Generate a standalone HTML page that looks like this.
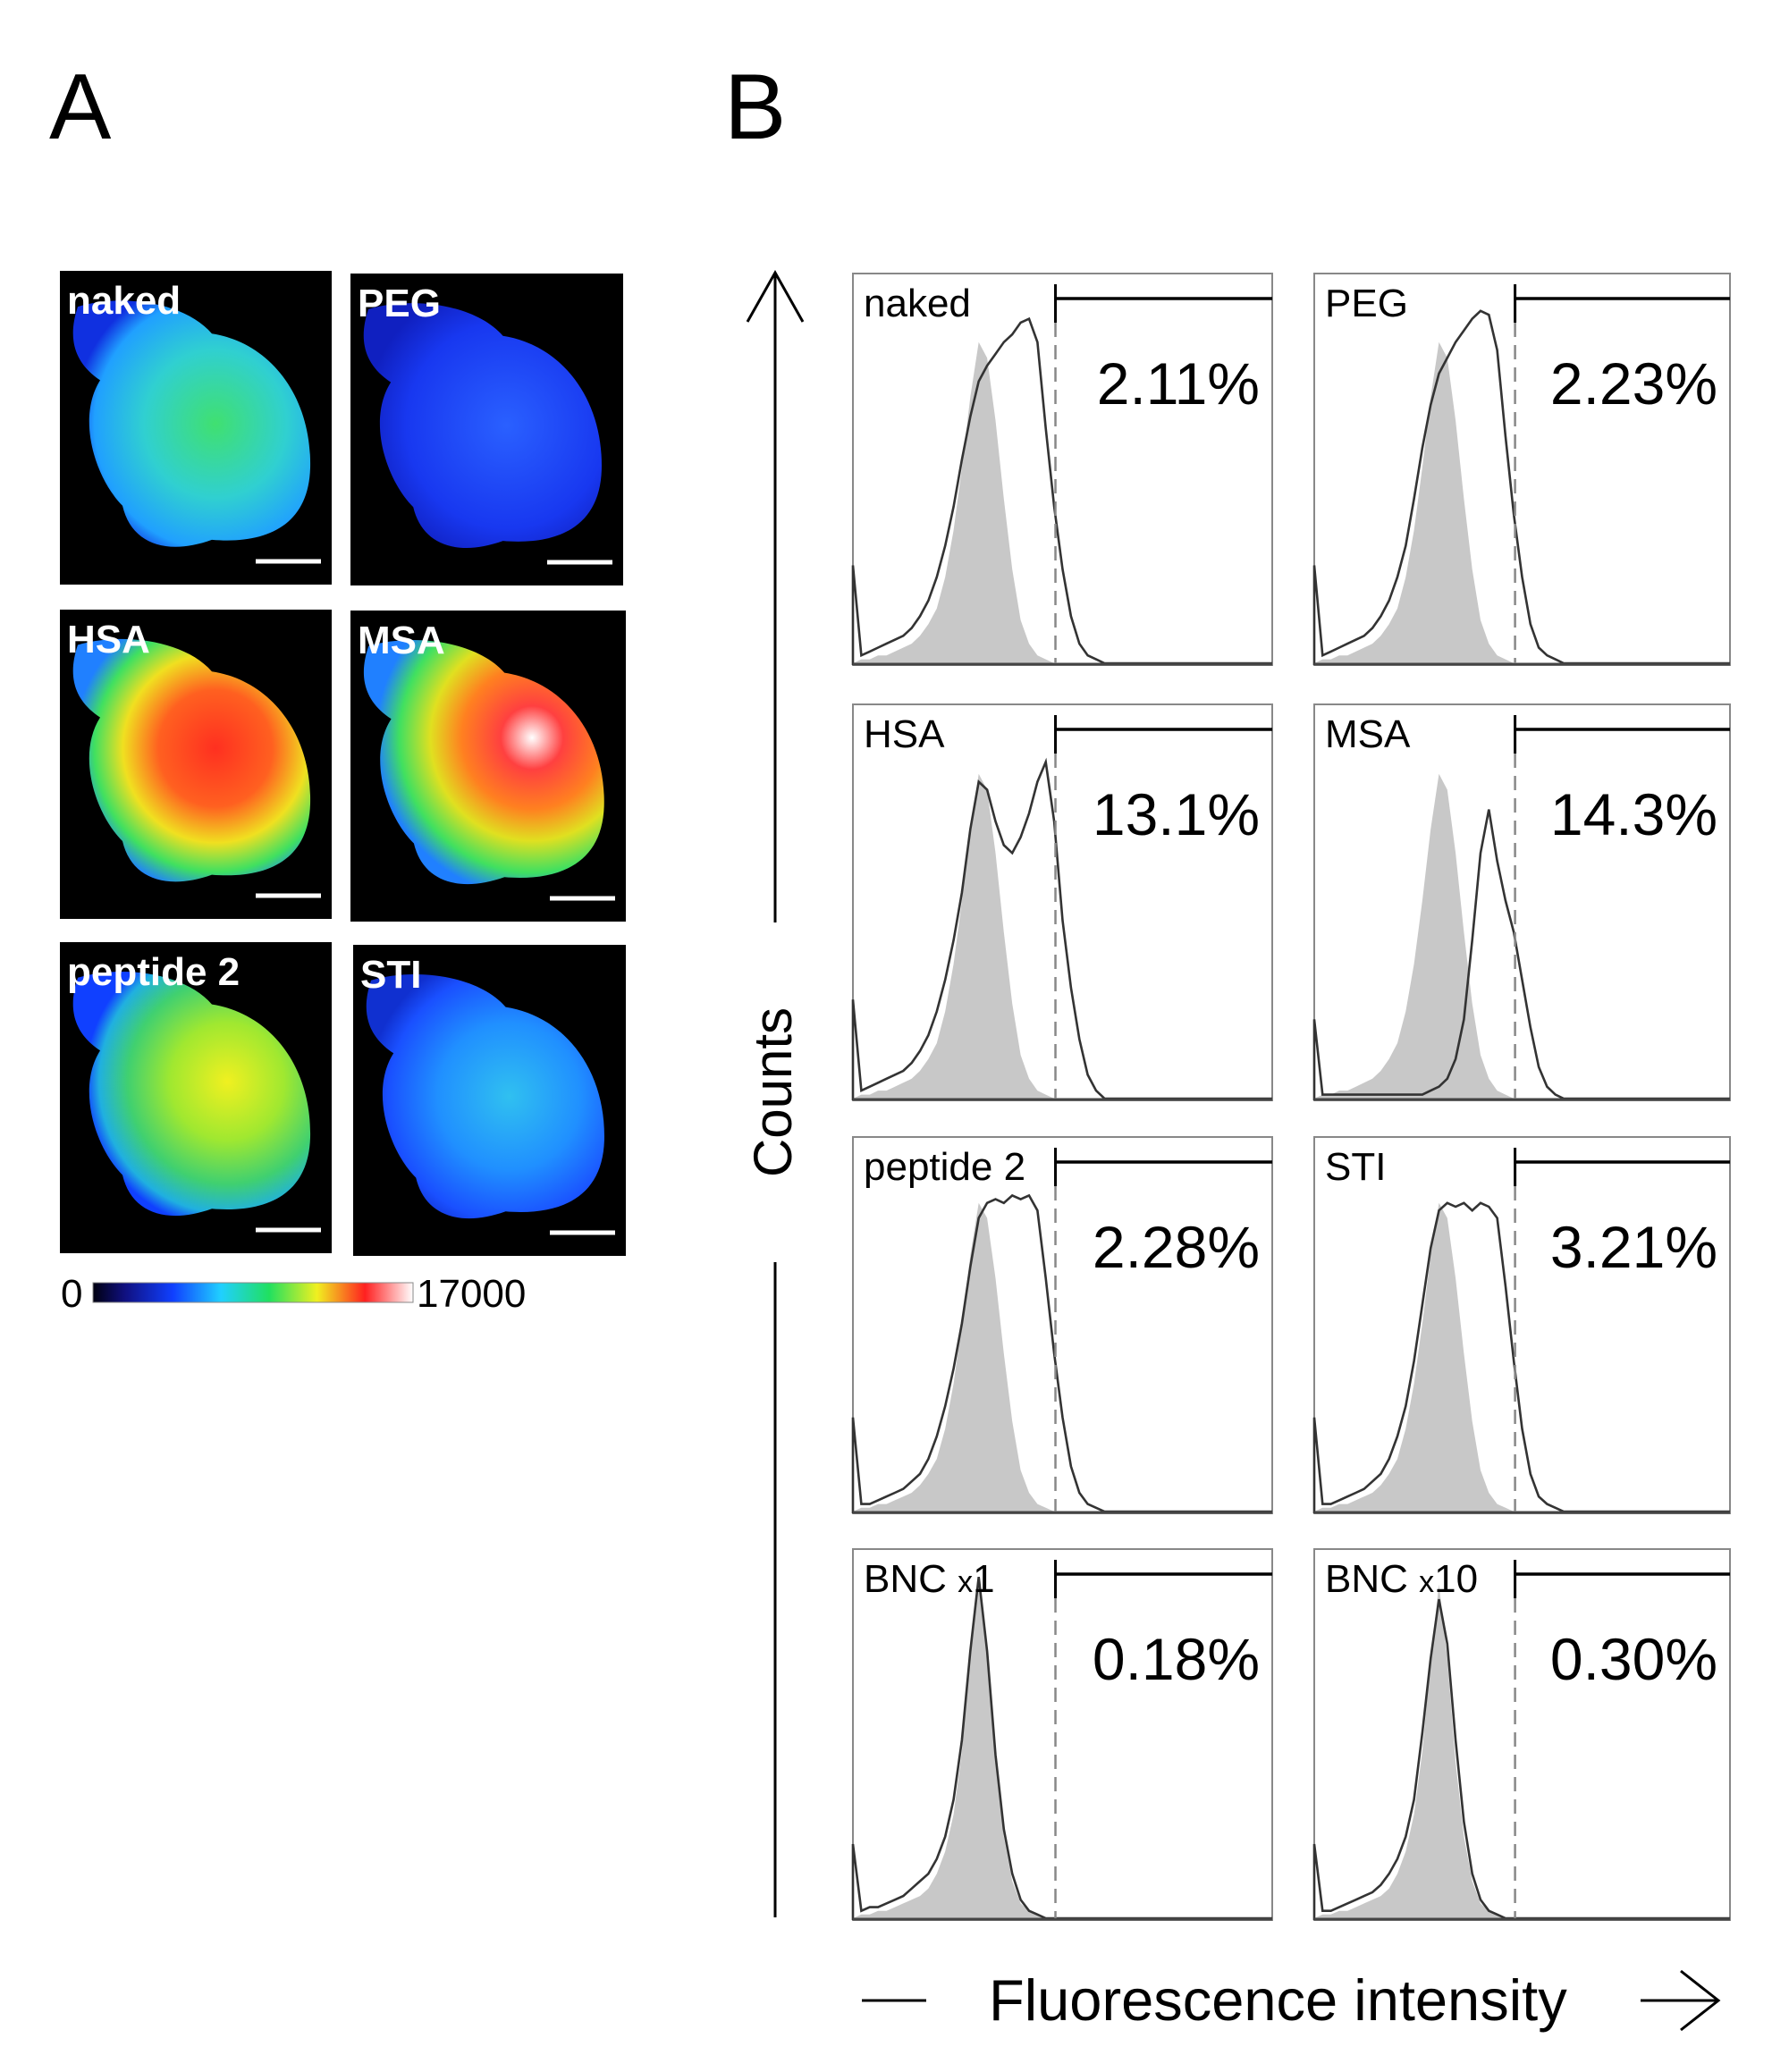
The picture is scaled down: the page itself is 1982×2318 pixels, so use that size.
<!DOCTYPE html>
<html><head><meta charset="utf-8"><style>
html,body{margin:0;padding:0;background:#fff;}
svg{display:block;font-family:"Liberation Sans",sans-serif;}
</style></head><body>
<svg id="fig" width="1982" height="2318" viewBox="0 0 1982 2318" xmlns="http://www.w3.org/2000/svg">
<defs>
<linearGradient id="cbar" x1="0" x2="1" y1="0" y2="0">
<stop offset="0" stop-color="#000010"/><stop offset="0.1" stop-color="#101080"/><stop offset="0.25" stop-color="#1040ff"/><stop offset="0.4" stop-color="#20d0ff"/><stop offset="0.55" stop-color="#20e060"/><stop offset="0.7" stop-color="#f0f020"/><stop offset="0.85" stop-color="#ff2020"/><stop offset="1" stop-color="#ffffff"/>
</linearGradient>
<radialGradient id="g-naked" cx="0.6" cy="0.5" r="0.6"><stop offset="0" stop-color="#40e070"/><stop offset="0.5" stop-color="#30d0d0"/><stop offset="0.85" stop-color="#20a0ff"/><stop offset="1" stop-color="#1030e0"/></radialGradient>
<radialGradient id="g-peg" cx="0.6" cy="0.5" r="0.6"><stop offset="0" stop-color="#2a60ff"/><stop offset="0.7" stop-color="#1838f0"/><stop offset="1" stop-color="#1020c0"/></radialGradient>
<radialGradient id="g-hsa" cx="0.6" cy="0.45" r="0.6"><stop offset="0" stop-color="#ff3020"/><stop offset="0.4" stop-color="#ff6020"/><stop offset="0.65" stop-color="#f0e020"/><stop offset="0.85" stop-color="#40e060"/><stop offset="1" stop-color="#2080ff"/></radialGradient>
<radialGradient id="g-msa" cx="0.7" cy="0.4" r="0.65"><stop offset="0" stop-color="#ffffff"/><stop offset="0.2" stop-color="#ff4040"/><stop offset="0.45" stop-color="#ff8020"/><stop offset="0.65" stop-color="#e0e020"/><stop offset="0.85" stop-color="#40e060"/><stop offset="1" stop-color="#2080ff"/></radialGradient>
<radialGradient id="g-pep" cx="0.65" cy="0.45" r="0.6"><stop offset="0" stop-color="#f0f020"/><stop offset="0.4" stop-color="#a0e830"/><stop offset="0.7" stop-color="#40d070"/><stop offset="0.9" stop-color="#20b0e0"/><stop offset="1" stop-color="#1040ff"/></radialGradient>
<radialGradient id="g-sti" cx="0.6" cy="0.5" r="0.6"><stop offset="0" stop-color="#30c0f0"/><stop offset="0.5" stop-color="#2090ff"/><stop offset="0.85" stop-color="#1a50ff"/><stop offset="1" stop-color="#1030d0"/></radialGradient>
</defs>
<text x="55" y="155" font-size="104" fill="#000">A</text>
<text x="810" y="155" font-size="104" fill="#000">B</text>
<g id="panelA"></g>
<g>
<rect x="104" y="1435" width="358" height="22" fill="url(#cbar)" stroke="#888" stroke-width="1"/>
<text x="68" y="1462" font-size="44" fill="#000">0</text>
<text x="466" y="1462" font-size="44" fill="#000">17000</text>
</g>
<g>
<line x1="867" y1="305" x2="867" y2="1032" stroke="#000" stroke-width="3"/>
<polyline points="836,360 867,305 898,360" fill="none" stroke="#000" stroke-width="3"/>
<line x1="867" y1="1412" x2="867" y2="2145" stroke="#000" stroke-width="3"/>
<text transform="translate(885,1222) rotate(-90)" text-anchor="middle" font-size="60" fill="#000">Counts</text>
</g>
<g>
<line x1="964" y1="2238" x2="1036" y2="2238" stroke="#000" stroke-width="3"/>
<text x="1106" y="2260" font-size="65" fill="#000">Fluorescence intensity</text>
<line x1="1835" y1="2238" x2="1922" y2="2238" stroke="#000" stroke-width="3"/>
<polyline points="1880,2205 1922,2238 1880,2271" fill="none" stroke="#000" stroke-width="3"/>
</g>
<g id="panelB"></g>
</svg>
<script>
// Histogram data: heights (fraction of box height) at x = i*0.02 of box width
const panelNames = ["naked","PEG","HSA","MSA","peptide 2","STI","BNC x1","BNC x10"];
const percentLabels = ["2.11%","2.23%","13.1%","14.3%","2.28%","3.21%","0.18%","0.30%"];
const controlSeries = [0,0.01,0.01,0.02,0.02,0.03,0.04,0.05,0.07,0.10,0.14,0.22,0.34,0.50,0.68,0.82,0.78,0.62,0.42,0.24,0.11,0.05,0.02,0.01,0,0,0,0,0,0,0];
const controlBNC = [0,0.01,0.01,0.02,0.02,0.03,0.04,0.05,0.06,0.08,0.12,0.18,0.28,0.45,0.70,0.90,0.70,0.42,0.22,0.10,0.04,0.02,0.01,0,0,0,0,0,0,0,0];
const sampleNaked = [0.25,0.02,0.03,0.04,0.05,0.06,0.07,0.09,0.12,0.16,0.22,0.30,0.40,0.52,0.63,0.72,0.76,0.79,0.82,0.84,0.87,0.88,0.82,0.60,0.40,0.24,0.12,0.05,0.02,0.01,0];
const samplePEG = [0.25,0.02,0.03,0.04,0.05,0.06,0.07,0.09,0.12,0.16,0.22,0.30,0.42,0.55,0.66,0.74,0.78,0.82,0.85,0.88,0.90,0.89,0.80,0.58,0.38,0.22,0.10,0.04,0.02,0.01,0];
const sampleHSA = [0.25,0.02,0.03,0.04,0.05,0.06,0.07,0.09,0.12,0.16,0.22,0.30,0.40,0.52,0.68,0.80,0.78,0.70,0.64,0.62,0.66,0.72,0.80,0.85,0.70,0.45,0.28,0.15,0.06,0.02,0];
const sampleMSA = [0.2,0.01,0.01,0.01,0.01,0.01,0.01,0.01,0.01,0.01,0.01,0.01,0.01,0.01,0.02,0.03,0.05,0.10,0.20,0.40,0.62,0.73,0.60,0.50,0.42,0.30,0.18,0.08,0.03,0.01,0];
const samplePep = [0.25,0.02,0.02,0.03,0.04,0.05,0.06,0.08,0.10,0.14,0.20,0.28,0.38,0.50,0.65,0.78,0.82,0.83,0.82,0.84,0.83,0.84,0.80,0.62,0.42,0.25,0.12,0.05,0.02,0.01,0];
const sampleSTI = [0.25,0.02,0.02,0.03,0.04,0.05,0.06,0.08,0.10,0.14,0.20,0.28,0.40,0.55,0.70,0.80,0.82,0.81,0.82,0.80,0.82,0.81,0.78,0.60,0.40,0.22,0.10,0.04,0.02,0.01,0];
const sampleBNC1 = [0.2,0.02,0.03,0.03,0.04,0.05,0.06,0.08,0.10,0.12,0.16,0.22,0.32,0.48,0.72,0.92,0.72,0.44,0.24,0.12,0.05,0.02,0.01,0,0,0,0,0,0,0,0];
const sampleBNC10 = [0.2,0.02,0.02,0.03,0.04,0.05,0.06,0.07,0.09,0.12,0.16,0.22,0.32,0.50,0.70,0.86,0.74,0.48,0.26,0.12,0.05,0.02,0.01,0,0,0,0,0,0,0,0];

const NS="http://www.w3.org/2000/svg";
function mk(tag,attrs,parent){const e=document.createElementNS(NS,tag);for(const k in attrs)e.setAttribute(k,attrs[k]);parent.appendChild(e);return e;}

// Panel A
const imgBoxes=[[67,303,304,351],[392,306,305,349],[67,682,304,346],[392,683,308,348],[67,1054,304,348],[395,1057,305,348]];
const imgGrads=["g-naked","g-peg","g-hsa","g-msa","g-pep","g-sti"];
const imgLabels=["naked","PEG","HSA","MSA","peptide 2","STI"];
const pA=document.getElementById('panelA');
imgBoxes.forEach((b,i)=>{
  const g=mk('g',{transform:`translate(${b[0]},${b[1]})`},pA);
  
  
  mk('rect',{x:0,y:0,width:b[2],height:b[3],fill:'#000'},g);
  const sx=b[2]/304, sy=b[3]/350;
  mk('path',{d:"M20,40 C70,25 140,35 170,70 C235,80 282,140 280,220 C278,285 230,305 170,300 C120,318 80,305 70,262 C40,232 18,165 45,122 C12,100 10,70 20,40 Z",fill:`url(#${imgGrads[i]})`,transform:`scale(${sx},${sy})`},g);
  mk('line',{x1:b[2]-85,y1:b[3]-26,x2:b[2]-12,y2:b[3]-26,stroke:'#fff','stroke-width':5},g);
  const t=mk('text',{x:8,y:48,'font-size':44,'font-weight':'bold',fill:'#fff'},g);
  t.textContent=imgLabels[i];
});

// Panel B
const sampleSeries=[sampleNaked,samplePEG,sampleHSA,sampleMSA,samplePep,sampleSTI,sampleBNC1,sampleBNC10];
const colX=[[954,469],[1470,465]];
const rowY=[[306,438],[788,443],[1272,421],[1733,415]];
const pB=document.getElementById('panelB');
function xScale(box,i){return box.x+i*0.02*box.w;}
function yScale(box,v){return box.y+box.h-2-v*box.h;}
panelNames.forEach((name,p)=>{
  const c=colX[p%2], r=rowY[Math.floor(p/2)];
  const box={x:c[0],y:r[0],w:c[1],h:r[1]};
  const g=mk('g',{},pB);
  
  
  mk('rect',{x:box.x,y:box.y,width:box.w,height:box.h,fill:'#fff',stroke:'#888','stroke-width':2},g);
  const ctrl=p>=6?controlBNC:controlSeries;
  let d=`M${box.x},${box.y+box.h}`;
  ctrl.forEach((v,i)=>{d+=` L${xScale(box,i).toFixed(1)},${yScale(box,v).toFixed(1)}`;});
  d+=` L${xScale(box,ctrl.length-1)},${box.y+box.h} Z`;
  const cp=mk('path',{d:d,fill:'#c8c8c8',stroke:'none'},g);
  
  
  const s=sampleSeries[p];
  let d2=`M${box.x},${box.y+box.h}`;
  s.forEach((v,i)=>{d2+=` L${xScale(box,i).toFixed(1)},${yScale(box,v).toFixed(1)}`;});
  d2+=` L${box.x+box.w},${box.y+box.h-2}`;
  const sp=mk('path',{d:d2,fill:'none',stroke:'#333','stroke-width':2.6},g);
  
  
  mk('line',{x1:box.x,y1:box.y+box.h-1,x2:box.x+box.w,y2:box.y+box.h-1,stroke:'#444','stroke-width':3},g);
  const gx=box.x+box.w*0.483;
  mk('line',{x1:gx,y1:box.y+55,x2:gx,y2:box.y+box.h-2,stroke:'#888','stroke-width':2.5,'stroke-dasharray':'16,9'},g);
  mk('line',{x1:gx,y1:box.y+12,x2:gx,y2:box.y+55,stroke:'#000','stroke-width':3},g);
  const gl=mk('line',{x1:gx,y1:box.y+28,x2:box.x+box.w,y2:box.y+28,stroke:'#000','stroke-width':3.5},g);
  
  
  const lt=mk('text',{x:box.x+12,y:box.y+48,'font-size':44,fill:'#000'},g);
  
  
  if(name.startsWith('BNC')){
    lt.textContent='BNC ';
    const ts=mk('tspan',{'font-size':34},lt); ts.textContent='x';
    const ts2=mk('tspan',{},lt); ts2.textContent=name.split(' x')[1];
  } else lt.textContent=name;
  const pt=mk('text',{x:box.x+box.w-14,y:box.y+146,'font-size':66,'text-anchor':'end',fill:'#000'},g);
  
  
  pt.textContent=percentLabels[p];
});
</script>
</body></html>
